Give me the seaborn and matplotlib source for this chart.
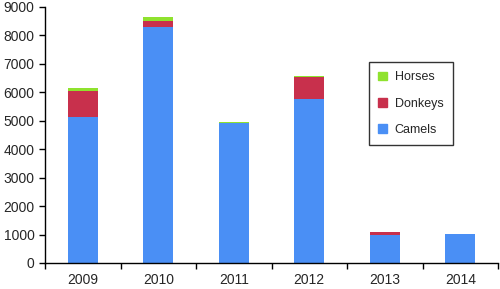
import numpy as np
import pandas as pd
import matplotlib
matplotlib.use("Agg")
import matplotlib.pyplot as plt
import seaborn as sns
from matplotlib.patches import Patch

# ==== data ====
years = ["2009", "2010", "2011", "2012", "2013", "2014"]
camels = [5130, 8300, 4910, 5750, 970, 1010]
donkeys = [910, 200, 0, 780, 120, 0]
horses = [110, 130, 50, 40, 0, 0]

colors = {"Camels": "#4a8ff5", "Donkeys": "#c8304c", "Horses": "#8fe22e"}

df = pd.DataFrame({"year": years, "Camels": camels,
                   "Donkeys": donkeys, "Horses": horses})
df["c_d"] = df["Camels"] + df["Donkeys"]
df["total"] = df["c_d"] + df["Horses"]

sns.set_style("ticks")
plt.rcParams["font.family"] = ["Liberation Sans", "DejaVu Sans"]

fig = plt.figure(figsize=(5, 2.89), dpi=100)
ax = fig.add_axes([0.09, 0.09, 0.906, 0.886])

# stacked by overlaying cumulative totals
for col, key in [("total", "Horses"), ("c_d", "Donkeys"), ("Camels", "Camels")]:
    sns.barplot(df, x="year", y=col, color=colors[key], width=0.4,
                saturation=1, linewidth=0, ax=ax)

ax.set_ylim(0, 9000)
ax.set_xlim(-0.5, len(years) - 0.5)
ax.set_yticks(np.arange(0, 9001, 1000))
ax.set_xlabel("")
ax.set_ylabel("")
ax.tick_params(axis="x", which="major", length=0, pad=7, labelsize=10)
ax.set_xticks(np.arange(-0.5, len(years)), minor=True)
ax.tick_params(axis="x", which="minor", length=4, width=1, color="black")
ax.tick_params(axis="y", length=4, width=1, color="black", labelsize=10)
sns.despine(ax=ax)
for s in ["left", "bottom"]:
    ax.spines[s].set_color("black")
    ax.spines[s].set_linewidth(1)

handles = [Patch(color=colors[k], label=k) for k in ["Horses", "Donkeys", "Camels"]]
leg = ax.legend(handles=handles, loc="upper left", bbox_to_anchor=(0.715, 0.785),
                frameon=True, fancybox=False, edgecolor="black", fontsize=9,
                handlelength=0.7, handleheight=0.7, labelspacing=1.15,
                handletextpad=0.6, borderpad=0.75, borderaxespad=0)
leg.get_frame().set_linewidth(1)

fig.savefig("out.png", dpi=100)
